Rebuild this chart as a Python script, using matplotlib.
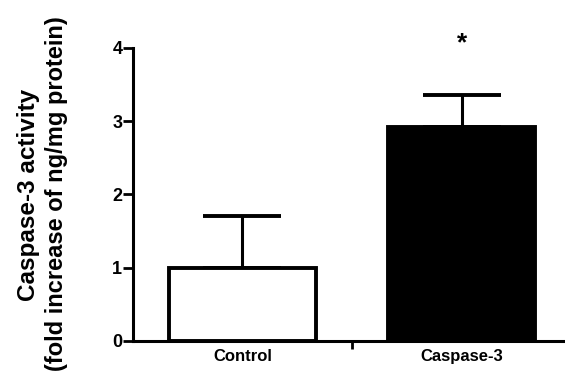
import matplotlib
matplotlib.use("Agg")
import matplotlib.pyplot as plt

categories = ["Control", "Caspase-3"]
means = [1.0, 2.92]
upper_err = [0.70, 0.44]
bar_colors = ["white", "black"]
yticks = [0, 1, 2, 3, 4]

plt.rcParams['font.family'] = ['Liberation Sans', 'DejaVu Sans']
plt.rcParams['font.weight'] = 'bold'

fig = plt.figure(figsize=(5.65, 3.71), dpi=100)
ax = fig.add_axes([0.235, 0.081, 0.761, 0.79])

x = list(range(len(categories)))
ax.errorbar(x, means, yerr=[[0]*len(means), upper_err], fmt='none',
            ecolor='black', elinewidth=2.2, capsize=28, capthick=2.8, zorder=1)
ax.bar(x, means, width=0.67, color=bar_colors, edgecolor='black',
       linewidth=2.8, zorder=2)

ax.set_xlim(-0.5, 1.46)
ax.set_ylim(0, 4)
ax.set_yticks(yticks)
ax.set_yticklabels([str(t) for t in yticks], fontsize=13, fontweight='bold')

ax.set_xticks([0.5])
ax.set_xticklabels([""])
ax.tick_params(axis='x', length=6, width=2, direction='out')
ax.tick_params(axis='y', length=7, width=2, pad=0.5)
for i, c in enumerate(categories):
    ax.text(i, -0.21, c, ha='center', va='center', fontsize=12,
            fontweight='bold', transform=ax.transData)

for s in ['top', 'right']:
    ax.spines[s].set_visible(False)
for s in ['left', 'bottom']:
    ax.spines[s].set_linewidth(2.2)

ax.text(1, 3.9, "*", ha='center', va='bottom', fontsize=19,
        fontweight='bold', clip_on=False)

fig.text(0.05, 0.474, "Caspase-3 activity", rotation=90, ha='center',
         va='center', fontsize=17.5, fontweight='bold')
fig.text(0.10, 0.478, "(fold increase of ng/mg protein)", rotation=90,
         ha='center', va='center', fontsize=17, fontweight='bold')

fig.savefig("out.png", dpi=100)
